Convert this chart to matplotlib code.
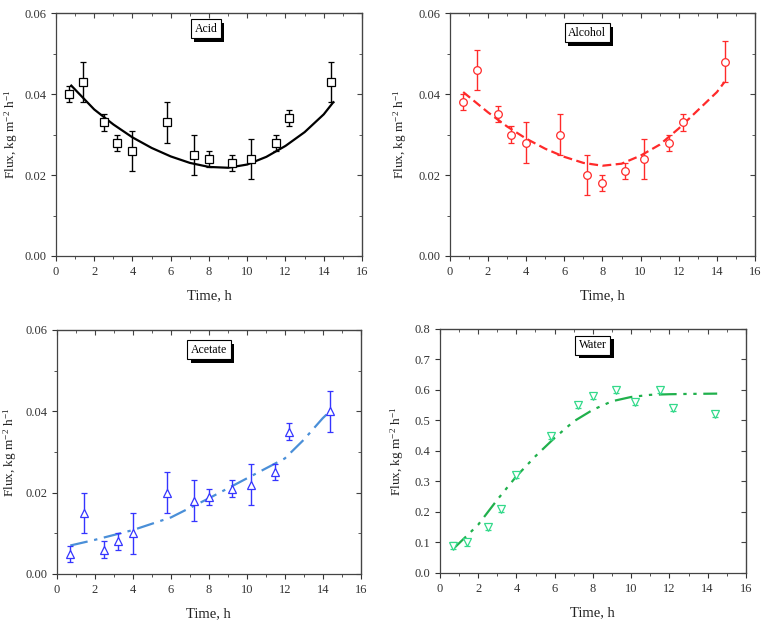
import numpy as np
import matplotlib
matplotlib.use("Agg")
import matplotlib.pyplot as plt
import matplotlib.patheffects as pe
from matplotlib.ticker import MultipleLocator

plt.rcParams['font.family'] = ['Liberation Serif', 'DejaVu Serif']
plt.rcParams['mathtext.default'] = 'regular'

# sampling times (h), shared by all four panels
time = [0.7, 1.4, 2.5, 3.2, 4.0, 5.8, 7.2, 8.0, 9.2, 10.2, 11.5, 12.2, 14.4]

acid = [0.040, 0.043, 0.033, 0.028, 0.026, 0.033, 0.025, 0.024, 0.023, 0.024, 0.028, 0.034, 0.043]
acid_err = [0.002, 0.005, 0.002, 0.002, 0.005, 0.005, 0.005, 0.002, 0.002, 0.005, 0.002, 0.002, 0.005]
acid_fit_x = [0.8, 2, 3, 4, 5, 6, 7, 8, 9, 10, 11, 12, 13, 14, 14.5]
acid_fit_y = [0.0421, 0.0362, 0.0325, 0.0293, 0.0267, 0.0246, 0.0230, 0.0220, 0.0218,
              0.0226, 0.0245, 0.0272, 0.0306, 0.0350, 0.0380]

alcohol = [0.038, 0.046, 0.035, 0.030, 0.028, 0.030, 0.020, 0.018, 0.021, 0.024, 0.028, 0.033, 0.048]
alcohol_err = [0.002, 0.005, 0.002, 0.002, 0.005, 0.005, 0.005, 0.002, 0.002, 0.005, 0.002, 0.002, 0.005]
alcohol_fit_x = [0.7, 2, 3, 4, 5, 6, 7, 8, 9, 10, 11, 12, 13, 14, 14.4]
alcohol_fit_y = [0.0405, 0.0355, 0.0320, 0.0290, 0.0265, 0.0245, 0.0230, 0.0223, 0.0228,
                 0.0248, 0.0275, 0.0315, 0.0360, 0.0405, 0.0430]

acetate = [0.005, 0.015, 0.006, 0.008, 0.010, 0.020, 0.018, 0.019, 0.021, 0.022, 0.025, 0.035, 0.040]
acetate_err = [0.002, 0.005, 0.002, 0.002, 0.005, 0.005, 0.005, 0.002, 0.002, 0.005, 0.002, 0.002, 0.005]
acetate_fit_x = [0.7, 2, 4, 6, 8, 10, 12, 13, 14, 14.2]
acetate_fit_y = [0.0070, 0.0084, 0.0108, 0.0139, 0.0186, 0.0235, 0.0284, 0.0330, 0.0383, 0.0392]

water = [0.09, 0.10, 0.15, 0.21, 0.32, 0.45, 0.55, 0.58, 0.60, 0.56, 0.60, 0.54, 0.52]
water_err = [0.01] * 13
water_fit_x = [0.7, 2, 3, 4, 5, 6, 7, 8, 9, 10, 11, 12, 13, 14.5]
water_fit_y = [0.079, 0.158, 0.240, 0.317, 0.383, 0.443, 0.497, 0.535, 0.563, 0.577,
               0.584, 0.586, 0.587, 0.588]

panels = [
    ("Acid", acid, acid_err, acid_fit_x, acid_fit_y, 's', 'black', 'black', '-',
     [0.0732, 0.5878, 0.400, 0.391], 0.06, 0.02, 0.01, "{:.2f}", -0.118, (0.49, 0.936)),
    ("Alcohol", alcohol, alcohol_err, alcohol_fit_x, alcohol_fit_y, 'o', '#ff2a2a', '#ff2a2a', (0, (4, 2)),
     [0.588, 0.5878, 0.399, 0.391], 0.06, 0.02, 0.01, "{:.2f}", -0.135, (0.45, 0.92)),
    ("Acetate", acetate, acetate_err, acetate_fit_x, acetate_fit_y, '^', '#3535ff', '#4a8fd8', (0, (8, 3, 1.5, 3)),
     [0.0745, 0.0757, 0.397, 0.393], 0.06, 0.02, 0.01, "{:.2f}", -0.125, (0.50, 0.918)),
    ("Water", water, water_err, water_fit_x, water_fit_y, 'v', '#33d98a', '#20b04c', (0, (8, 3, 1.5, 3, 1.5, 3)),
     [0.575, 0.0773, 0.400, 0.393], 0.8, 0.1, None, "{:.1f}", -0.112, (0.50, 0.934)),
]

fig = plt.figure(figsize=(7.65, 6.21), dpi=100)

for name, y, yerr, fx, fy, mk, col, fcol, ls, pos, ymax, ymaj, ymin, fmt, lab_x, tpos in panels:
    ax = fig.add_axes(pos)
    ax.errorbar(time, y, yerr=yerr, fmt=mk, mfc='white', mec=col, ecolor=col,
                ms=5.5, mew=0.9, elinewidth=1.0, capsize=2.5, capthick=1.0, zorder=3)
    ax.plot(fx, fy, color=fcol, lw=1.6, linestyle=ls, zorder=2)
    ax.set_xlim(0, 16)
    ax.set_ylim(0, ymax)
    ax.xaxis.set_major_locator(MultipleLocator(2))
    ax.xaxis.set_minor_locator(MultipleLocator(1))
    ax.yaxis.set_major_locator(MultipleLocator(ymaj))
    if ymin:
        ax.yaxis.set_minor_locator(MultipleLocator(ymin))
    ticks = np.arange(0, ymax + ymaj / 2, ymaj)
    ax.set_yticks(ticks)
    ax.set_yticklabels([fmt.format(v) for v in ticks])
    ax.tick_params(which='both', direction='out', top=False, right=False, labelsize=9, colors='#333333')
    ax.tick_params(which='major', length=3.5)
    ax.tick_params(which='minor', length=2)
    for s in ax.spines.values():
        s.set_linewidth(0.9)
        s.set_color('#444444')
    # inward ticks on the top and right spines
    ax2 = ax.secondary_xaxis('top')
    ax2.xaxis.set_major_locator(MultipleLocator(2))
    ax2.xaxis.set_minor_locator(MultipleLocator(1))
    ax2.tick_params(which='both', direction='in', labeltop=False, colors='#444444')
    ax2.tick_params(which='major', length=3.5)
    ax2.tick_params(which='minor', length=2)
    ay2 = ax.secondary_yaxis('right')
    ay2.yaxis.set_major_locator(MultipleLocator(ymaj))
    if ymin:
        ay2.yaxis.set_minor_locator(MultipleLocator(ymin))
    ay2.tick_params(which='both', direction='in', labelright=False, colors='#444444')
    ay2.tick_params(which='major', length=3.5)
    ay2.tick_params(which='minor', length=2)

    ax.set_xlabel("Time, h", fontsize=10.5, color='#222222', labelpad=8)
    ax.set_ylabel("Flux, kg m$^{-2}$ h$^{-1}$", fontsize=9.5, color='#222222')
    ax.yaxis.set_label_coords(lab_x, 0.5)

    # label box with a black drop shadow
    t = ax.text(tpos[0], tpos[1], name, transform=ax.transAxes, ha='center', va='center',
                fontsize=8.5, color='black', zorder=6,
                bbox=dict(boxstyle='square,pad=0.3', fc='white', ec='black', lw=0.8))
    t.get_bbox_patch().set_path_effects([
        pe.withSimplePatchShadow(offset=(2.5, -2.5), shadow_rgbFace='black', alpha=1.0)])

fig.savefig("out.png", dpi=100)
